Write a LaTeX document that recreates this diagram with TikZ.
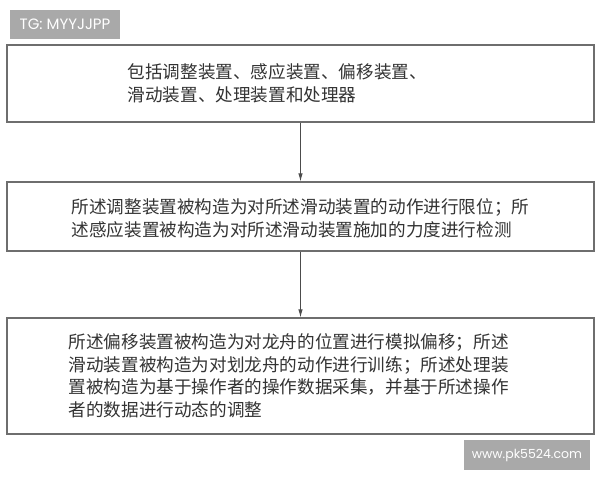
\documentclass[tikz,border=0pt]{standalone}
\usepackage{fontspec}
\newfontfamily\cjk{Noto Sans CJK SC}
\newfontfamily\wmfont{Poppins}
\usetikzlibrary{
    arrows.meta,
    positioning
}
\definecolor{boxgray}{HTML}{6E6E6E}
\definecolor{textgray}{HTML}{333333}
\definecolor{wmgray}{HTML}{A9A9A9}

\begin{document}
\begin{tikzpicture} [x=1pt, y=-1pt, inner sep=0pt,
    stepbox/.style={rectangle,draw=boxgray,line width=1.2pt,
                  minimum width=587pt},
    steptext/.style={anchor=west,align=left,text=textgray,
                  font=\cjk\fontsize{17.6}{22.5}\selectfont},
    mark tag/.style={rectangle,fill=wmgray,text=white,
                  font=\wmfont\fontsize{12.5}{14}\selectfont},
    flow/.style={draw=black!70,line width=0.9pt,
                  -{Latex[length=8pt,width=4.5pt]}}
]
    \useasboundingbox[fill=white] (0,0) rectangle (600,480);

    % watermarks
    \node[mark tag, minimum width=110pt, minimum height=29pt,
          font=\wmfont\fontsize{15}{16}\selectfont] (tag)  at (65,24.5)  {TG: MYYJJPP};
    \node[mark tag, minimum width=126pt, minimum height=30pt] (site) at (527,455)  {www.pk5524.com};

    % steps
    \node[stepbox, minimum height=77pt]  (parts)  at (300.5,83.5)  {};
    \node[stepbox, minimum height=69pt]  (detect) at (300.5,216.5) {};
    \node[stepbox, minimum height=116pt] (adjust) at (300.5,376)   {};

    \node[steptext] (parts text)  at ([xshift=121pt]parts.west)
        {包括调整装置、感应装置、偏移装置、\\滑动装置、处理装置和处理器};
    \node[steptext] (detect text) at ([xshift=65pt,yshift=-2pt]detect.west)
        {所述调整装置被构造为对所述滑动装置的动作进行限位；所\\述感应装置被构造为对所述滑动装置施加的力度进行检测};
    \node[steptext] (adjust text) at ([xshift=62pt]adjust.west)
        {所述偏移装置被构造为对龙舟的位置进行模拟偏移；所述\\滑动装置被构造为对划龙舟的动作进行训练；所述处理装\\置被构造为基于操作者的操作数据采集，并基于所述操作\\者的数据进行动态的调整};

    \draw[flow] (parts) -- (detect);
    \draw[flow] (detect) -- (adjust);
\end{tikzpicture}
\end{document}
